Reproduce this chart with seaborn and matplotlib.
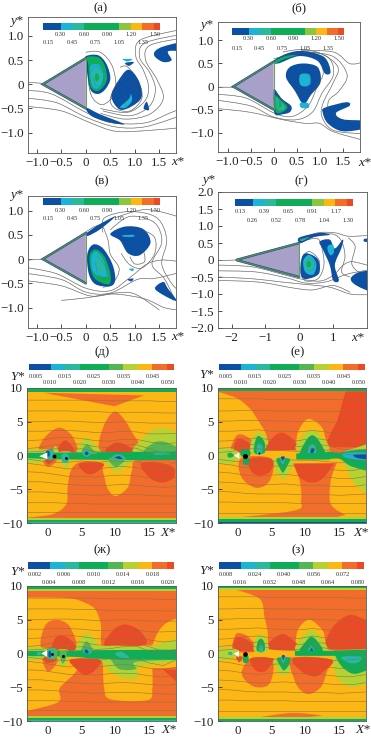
#!/usr/bin/env python3
# Vorticity / velocity contour panels behind a triangular cylinder
import matplotlib
matplotlib.use('Agg')
import matplotlib.pyplot as plt
from matplotlib.colors import ListedColormap
from matplotlib.patches import PathPatch, Polygon
from matplotlib.path import Path
import seaborn as sns

W, H = 371, 739

b = '#0c50a4'
cy = '#1cb4d4'
te = '#2cb89c'
g = '#10ad58'
mg = '#55b552'
yg = '#b4d234'
lg = '#8cc63f'
yo = '#fdb714'
ora = '#f26d2b'
red = '#ea4a26'
tri = '#a9a0ca'
gr = '#8c8c8c'

TOP_CELLS = [b, b, b, cy, cy, te, te, g, g, g, g, g, g, lg, lg, yo, yo, ora, ora, red]
LOW_CELLS = [b, b, b, cy, cy, te, te, g, g, g, g, mg, mg, yg, yg, yo, yo, ora, ora, red]

LABELS_A = ['0.15', '0.30', '0.45', '0.60', '0.75', '0.90', '1.05', '1.20', '1.35', '1.50']
LABELS_G = ['0.13', '0.26', '0.39', '0.52', '0.65', '0.78', '0.91', '1.04', '1.17', '1.30']
LABELS_D = ['0.005', '0.010', '0.015', '0.020', '0.025', '0.030', '0.035', '0.040', '0.045', '0.050']
LABELS_ZH = ['0.002', '0.004', '0.006', '0.008', '0.010', '0.012', '0.014', '0.016', '0.018', '0.020']
LABELS_Z = ['0.008', '0.016', '0.024', '0.032', '0.040', '0.048', '0.056', '0.064', '0.072', '0.080']

TRIANGLE = [(-0.88, 0.0), (0.0, 0.54), (0.0, -0.5)]
TRIANGLE_G = [(-1.87, 0.0), (0.0, 0.5), (0.0, -0.5)]

# outlines of the contour regions, data units, painted in order
BLOBS_A = [
    (b, [(0, .58), (.25, .6), (.42, .42), (.5, .12), (.4, -.1), (.25, -.2), (.1, -.12), (.03, .2), (.02, .45)]),
    (g, [(.02, .56), (.25, .56), (.38, .4), (.43, .12), (.35, -.06), (.22, -.14), (.1, -.05), (.06, .2), (.05, .42)]),
    (cy, [(.1, .38), (.27, .4), (.36, .2), (.3, -.04), (.17, -.08), (.1, .1)]),
    (te, [(.15, .28), (.27, .3), (.31, .15), (.25, .01), (.17, .02), (.14, .14)]),
    (g, [(.19, .2), (.25, .22), (.27, .12), (.22, .06), (.19, .1)]),
    (b, [(.86, .3), (1.07, .09), (1.14, -.26), (.93, -.46), (.69, -.52), (.52, -.26), (.63, .02)]),
    (cy, [(.7, -.47), (.88, -.3), (.92, -.2), (.94, -.34), (.82, -.48)]),
    (b, [(1.41, .68), (1.58, .78), (2.0, .87), (2.0, .7), (1.68, .68), (1.75, .5), (1.58, .46), (1.41, .57)]),
    (b, [(1.18, -.5), (1.24, -.36), (1.29, -.53)]),
    (b, [(0, -.48), (.29, -.62), (.78, -.82), (.49, -.79), (.12, -.66)]),
    (b, [(.8, .44), (.98, .46), (.88, .38)]),
    (cy, [(.75, .52), (.95, .52), (.85, .47)]),
]
BLOBS_B = [
    (b, [(0, .56), (.3, .72), (.65, .77), (1.1, .64), (1.24, .32), (1.12, .28), (.95, .56), (.55, .66), (.1, .5)]),
    (g, [(0, .54), (.25, .66), (.5, .68), (.2, .58), (.05, .5)]),
    (b, [(0, -.06), (.17, -.26), (.38, -.42), (.36, -.55), (.2, -.6), (.02, -.58)]),
    (g, [(.03, -.2), (.16, -.3), (.3, -.44), (.2, -.55), (.05, -.55)]),
    (te, [(.06, -.25), (.15, -.3), (.24, -.46), (.15, -.52), (.07, -.46)]),
    (g, [(.12, -.28), (.17, -.33), (.17, -.44), (.12, -.44)]),
    (b, [(.64, .5), (.96, .42), (1.02, .09), (.82, -.17), (.65, -.38), (.46, -.09), (.27, .2), (.35, .42)]),
    (cy, [(.58, .26), (.78, .26), (.8, .06), (.68, .0), (.57, .06)]),
    (cy, [(.58, -.36), (.75, -.36), (.76, -.46), (.6, -.46)]),
    (b, [(1.11, -.46), (1.58, -.34), (1.65, -.42), (1.36, -.57), (1.5, -.71), (2, -.75), (2, -.9), (1.5, -.97), (1.18, -.8), (1.07, -.57)]),
]
BLOBS_V = [
    (b, [(.03, .1), (.15, .3), (.35, .22), (.54, -.1), (.6, -.42), (.5, -.56), (.2, -.52), (.06, -.3)]),
    (g, [(.08, .08), (.2, .2), (.38, .05), (.5, -.3), (.47, -.52), (.2, -.42), (.1, -.2)]),
    (cy, [(.12, .06), (.22, .15), (.36, -.02), (.44, -.3), (.42, -.37), (.2, -.32), (.12, -.15)]),
    (te, [(.22, 0), (.3, .02), (.36, -.16), (.34, -.28), (.26, -.26), (.22, -.12)]),
    (b, [(0, .52), (.25, .7), (.6, .88), (.3, .62), (.05, .48)]),
    (b, [(.5, .52), (.8, .67), (1.17, .62), (1.32, .34), (1.1, .08), (.86, .12), (.7, .38)]),
    (cy, [(.75, .49), (.97, .5), (.97, .46), (.78, .46)]),
    (b, [(1.41, -.6), (1.58, -.47), (1.67, -.6), (1.85, -.86), (1.58, -.74)]),
    (cy, [(.88, -.2), (.98, -.2), (.95, -.25)]),
    (b, [(.85, -.42), (.97, -.4), (.93, -.46)]),
]
BLOBS_G = [
    (b, [(.06, .02), (.2, .2), (.55, .02), (.58, -.4), (.2, -.56), (.04, -.42)]),
    (cy, [(.12, -.02), (.3, .15), (.5, -.1), (.42, -.42), (.18, -.36)]),
    (te, [(.16, -.06), (.3, .04), (.42, -.12), (.36, -.3), (.2, -.28)]),
    (g, [(.22, -.1), (.3, -.02), (.36, -.12), (.32, -.2), (.24, -.2)]),
    (b, [(0, .66), (.6, .8), (.9, .74), (.45, .68), (.05, .5)]),
    (te, [(.02, .6), (.3, .68), (.1, .56)]),
    (b, [(.6, .54), (.9, .6), (1.05, .34), (1.29, .6), (1.24, .34), (1.05, -.15), (1.17, -.6), (1, -.6), (.9, -.15), (.7, .3)]),
    (cy, [(.85, .42), (1, .44), (1.02, .22), (.92, .14), (.84, .28)]),
    (b, [(1.52, -.54), (1.79, -.35), (2.2, -.38), (2.2, -.92), (1.69, -.75)]),
    (b, [(1.92, .62), (2.1, .62), (2.1, .54), (1.92, .54)]),
]

BLOBS_D = [
    (ora, [(-.7, 9.3), (-.7, 9.3), (14.2, 8.9), (14.2, 8.9), (9.8, 7.3), (9.8, 7.3)]),
    (ora, [(-3.5, -9.5), (.7, -8.7), (2.7, -7.2), (2.9, -4.7), (3.4, -2.2), (4.7, -1), (7.6, -1), (8.2, -2.7), (8.8, -4.9), (10, -6), (11.8, -4.7), (12.4, -2.2), (13.5, -.6), (22, -.6), (22, -.6), (22, -9.3), (22, -9.3)]),
    (ora, [(-1, .3), (-.7, 2.4), (1.5, 4.1), (3.4, 3.1), (4.4, 1), (4.3, .2)]),
    (red, [(1.5, .6), (2.1, 2), (2.9, 2.1), (3.9, .6)]),
    (ora, [(-.9, -.3), (0, -1.7), (1.3, -.6)]),
    (red, [(-.5, -.5), (.1, -1.3), (.9, -.5)]),
    (ora, [(7.8, .6), (8.2, 4.3), (9.8, 6.5), (11.3, 5.3), (12.5, 3.3), (13.9, 1), (13, .4)]),
    (red, [(8.5, .6), (10, 1.9), (11.8, 1.4), (12.5, .6)]),
    (yg, [(12.7, .4), (14.5, 3), (16.4, 4), (18.8, 3.4), (20, .3)]),
    (mg, [(14.3, .4), (15.9, 2), (17.9, 1.8), (20, .3)]),
    (red, [(13.7, -1.3), (15.9, -1), (18.4, -1.7), (18.6, -3.2), (16.9, -4), (15, -3.3)]),
    (red, [(4.6, -1.2), (8.2, -1.2), (7.1, -2.5), (5.7, -2.7)]),
    (yg, [(-4, .8), (-1, .9), (.6, .8), (-1, -1), (-4, -.8)]),
    (yg, [(.6, .5), (1.1, 1.4), (1.6, .5), (1.4, -.4), (.6, -.4)]),
    (yg, [(4.4, .4), (4.9, 1.9), (5.7, 2.7), (6.9, 1.6), (7.7, .4)]),
    (yg, [(8.2, -.4), (9.3, -1.8), (10, -2.5), (11.3, -1.8), (12.5, -.4)]),
    (yg, [(1.7, .5), (1.7, -.6), (2.6, -1.9), (3.4, -.6), (3.4, .5)]),
    (g, [(-4, .3), (3.9, .45), (22, .5), (22, -.6), (3.9, -.6), (-4, -.3)]),
    (mg, [(5, .3), (5.7, 1.7), (6.6, .9), (7.2, .3)]),
    (mg, [(9, -.4), (10, -1.7), (11.5, -.4)]),
    (te, [(5.1, .3), (5.7, .9), (6.4, .3), (5.7, -.2)]),
    (b, [(5.4, .3), (5.7, .6), (6, .3), (5.7, .05)]),
    (te, [(9.4, -.2), (10.5, .2), (11.5, -.5), (10.3, -.6)]),
    (b, [(9.9, -.3), (10.5, -.1), (11, -.5), (10.4, -.5)]),
    (te, [(2.1, .2), (3, .2), (3, -.9), (2.1, -.9)]),
    (te, [(-.1, .8), (.8, .8), (.8, -.5), (-.1, -.5)]),
    (b, [(-.3, .6), (.2, .6), (.2, -.1), (-.3, -.1)]),
    (te, [(15.5, .3), (17, .5), (18, .2), (16, .1)]),
]
BLOBS_E = [
    (ora, [(-3.5, 9.6), (-3.5, 9.6), (-.2, 8.5), (1.7, 7), (2.9, 5.3), (4.2, 3), (4.4, .8), (4.4, .8), (8.6, .8), (8.6, .8), (8.8, 3.3), (10.3, 5.4), (12.3, 4.3), (13, 2.3), (13.5, .8), (15.5, .4), (22, .6), (22, .6), (22, 9.6), (22, 9.6)]),
    (red, [(13.3, 1.7), (14.7, 5.3), (15.4, 7.8), (15.9, 9.5), (15.9, 9.5), (22, 9.5), (22, 9.5), (22, 1.4), (22, 1.4), (17, 1.2)]),
    (ora, [(-.9, .5), (-.4, 2.7), (.6, 3.1), (2.2, 2.1), (2.8, .5)]),
    (red, [(-.5, .7), (0, 2.5), (1.7, 1.8), (2.2, .7)]),
    (yg, [(1.9, .4), (2.1, 2.5), (3.1, 3.4), (4.3, 2.5), (4.3, .4)]),
    (g, [(2.4, .4), (2.6, 2.3), (3.1, 2.9), (3.9, 2), (3.9, .4)]),
    (te, [(2.8, .3), (2.8, 1.5), (3.2, 1.8), (3.6, 1.4), (3.5, .3)]),
    (red, [(3.9, .7), (3.9, .7), (4.9, 2.4), (6.4, 3.4), (8.1, 2.4), (9.2, .8), (9.2, .8)]),
    (yg, [(5.2, -.5), (5.6, -2.2), (6.7, -3.5), (7.7, -2.2), (8.2, -.5)]),
    (g, [(5.7, -.5), (6.4, -2.3), (6.7, -2.5), (7.3, -1.5), (7.6, -.5)]),
    (te, [(6.2, -.4), (6.6, -1.3), (7, -.4)]),
    (b, [(6.35, -.2), (6.6, -.8), (6.9, -.2)]),
    (yg, [(8.7, .8), (9.3, 2.6), (10.9, 3.8), (12.5, 2.6), (13.3, .8)]),
    (g, [(9.2, -.3), (9.8, 1.8), (10.9, 3), (12, 2.1), (12.8, -.1)]),
    (te, [(10.3, .2), (10.5, 1.3), (11.1, 1.7), (11.6, .8), (11.2, .1)]),
    (b, [(10.7, .4), (10.9, 1.1), (11.3, .9), (11, .3)]),
    (ora, [(-3.5, -9.5), (-3.5, -9.5), (8.1, -8.2), (9.3, -6.7), (9.1, -3.7), (8.1, -1.2), (8.1, -1.2), (14.6, -1.1), (14.6, -1.1), (13.7, -3.7), (13.7, -7.2), (15.9, -8.8), (15.9, -8.8), (13, -9.5), (13, -9.5)]),
    (red, [(8.3, -1.2), (8.3, -1.2), (14.2, -1.2), (14.2, -1.2), (12.5, -3.4), (10.8, -4), (9.1, -3.2)]),
    (ora, [(.5, -.4), (.5, -3.2), (2.7, -4.8), (4.7, -3.7), (5, -.5)]),
    (red, [(1.7, -.5), (2, -2.4), (3.4, -3), (4.9, -2.2), (4.9, -.5)]),
    (yg, [(-3.6, 1), (-1, 1), (.2, .4), (.2, -.5), (-1, -1.2), (-3.6, -1)]),
    (yg, [(15.4, .3), (16.9, 1), (22, 1.5), (22, -7), (17.4, -4.3), (15.9, -1.7), (15.2, -.3)]),
    (g, [(13, .5), (15, .45), (17, .75), (22, .8), (22, -2.6), (17, -1.7), (15, -.5), (13, -.5)]),
    (g, [(-1.5, .3), (-1, .4), (-.6, 0), (-1, -.3), (-1.5, -.2)]),
    (g, [(8.6, .3), (8.6, .3), (13.5, .4), (13.5, .4), (13.5, -.6), (13.5, -.6), (8.6, -.6), (8.6, -.6)]),
    (cy, [(15.5, .3), (17, .45), (22, .35), (22, -.9), (18, -.65), (15.9, -.3)]),
    (b, [(17.3, .15), (22, .15), (22, -.6), (18, -.45)]),
    (g, [(.8, -.4), (1.6, -.4), (1.6, -1.3), (.8, -1.3)]),
    (g, [(.5, .8), (1.7, .8), (1.7, -.1), (.5, -.1)]),
]
BLOBS_ZH = [
    (ora, [(-3.5, 9.3), (-3.5, 9.3), (-3.5, 8.3), (-3.5, 8.3), (3, 8.2), (5.5, 7.5), (7, 6.5), (7.8, 4.3), (7.8, 1.7), (8, 1.2), (8, 1.2), (15.4, 1.2), (15.4, 1.2), (16.4, 3.4), (18, 4.8), (22, 6.2), (22, 6.2), (22, 9.3), (22, 9.3)]),
    (red, [(8.5, 1.1), (9.6, 3.4), (11.3, 4.3), (13.5, 3.4), (14.3, 1.3)]),
    (ora, [(-.8, .6), (-.5, 4), (1.2, 5), (3.2, 4), (4, .6)]),
    (red, [(.7, .4), (1.2, 2.4), (2.9, 2.4), (4.1, .6)]),
    (yg, [(4.2, .4), (4.9, 2.3), (5.7, 3), (6.9, 2.1), (7.6, .4)]),
    (mg, [(4.9, .3), (5.7, 1.8), (6.6, .4)]),
    (ora, [(-3.5, -8.7), (1.5, -7.2), (1.7, -5.2), (3.7, -3.2), (4.9, -2), (8.1, -1.1), (8.1, -1.1), (8.3, -5.2), (9.3, -6.8), (14.7, -6.9), (15.4, -5.2), (15.4, -2.2), (15.4, -2.2), (22, -2), (22, -2), (22, -9.6), (22, -9.6), (-3.5, -9.6), (-3.5, -9.6)]),
    (ora, [(-.8, -.5), (-.3, -2.4), (.3, -2.6), (1.2, -1.6), (1.3, -.5)]),
    (red, [(-.6, -.6), (-.2, -1.4), (.9, -1.2), (1.2, -.6)]),
    (red, [(3.3, -.9), (7.7, -.9), (6.9, -2.5), (5.6, -3.2), (4.4, -2.5)]),
    (red, [(17, -2.4), (17, -2.4), (19.5, -2.4), (19.5, -2.4), (19, -4.2), (19, -4.2)]),
    (yg, [(7.6, -.6), (9.1, -2.6), (11, -3.6), (13.2, -3.6), (13.4, -2), (16.4, -1.5), (22, -.9), (22, 0), (7.6, 0)]),
    (yg, [(8, 1.1), (15, 1.1), (17, 1.6), (22, 2.8), (22, 0), (8, 0)]),
    (mg, [(9.1, -.6), (10.5, -2.3), (13, -2.3), (13.2, -1.2), (22, -.8), (22, 0), (9.1, 0)]),
    (yg, [(-4, .8), (-1.2, .9), (.3, .5), (-1.2, -.9), (-4, -.8)]),
    (yg, [(1.4, .5), (1.4, -.7), (2.2, -2.1), (3, -.7), (3, .5)]),
    (g, [(-4, .3), (4, .45), (8, .5), (22, .45), (22, -.8), (8, -.8), (4, -.5), (-4, -.3)]),
    (mg, [(1.8, .3), (1.8, -.6), (2.2, -1.5), (2.7, -.6), (2.7, .3)]),
    (te, [(5.1, .4), (5.7, .8), (6.5, .3), (5.8, -.1)]),
    (b, [(5.4, .35), (5.7, .6), (6, .2), (5.7, 0)]),
    (te, [(9.9, -.1), (10.8, .3), (12, -.6), (10.8, -.6)]),
    (mg, [(-.1, .7), (1.2, .7), (1.2, -.7), (-.1, -.7)]),
    (te, [(.1, .5), (.9, .5), (.9, -.6), (.1, -.6)]),
    (b, [(.1, .3), (.4, .3), (.4, -.5), (.1, -.5)]),
    (te, [(-1.6, .2), (-1.1, .2), (-1.1, -.2), (-1.6, -.2)]),
]
BLOBS_Z = [
    (ora, [(-.5, 9.5), (-.5, 9.5), (3.2, 8.1), (3.9, 5.5), (4.4, 3), (4.3, .7), (4.3, .7), (8.5, .7), (8.5, .7), (8.8, 3.4), (10.5, 5), (12.5, 3.4), (13, 1.4), (14, .5), (22, .5), (22, .5), (22, 9.5), (22, 9.5)]),
    (red, [(13, 1.1), (14, 3.9), (16.4, 5.7), (18.9, 5), (22, 4), (22, 1.1), (15.9, .6)]),
    (red, [(4.2, .7), (4.9, 1.9), (6.6, 2.9), (8.3, 1.8), (9.3, .5)]),
    (ora, [(-.7, .4), (-.4, 2.7), (.4, 3), (1.7, 2.3), (2.8, .4)]),
    (red, [(-.5, .6), (-.2, 2.4), (1.7, 1.8), (2.5, .4)]),
    (yg, [(2.4, .4), (2.6, 2.3), (3.4, 2.8), (4.3, 2), (4.4, .3)]),
    (g, [(2.8, .4), (2.9, 1.7), (3.4, 2.2), (3.9, 1.6), (3.9, .4)]),
    (te, [(3.1, .3), (3.3, 1.2), (3.7, 1), (3.6, .2)]),
    (yg, [(8.6, .4), (9.3, 2.3), (10.8, 3.4), (12.3, 2.3), (13, .4)]),
    (g, [(9.2, .3), (9.8, 1.5), (10.8, 2.5), (11.8, 1.7), (12.4, .3)]),
    (te, [(10.3, .2), (10.8, 1.2), (11.3, .3), (10.8, -.1)]),
    (b, [(10.6, .3), (10.9, .8), (11.1, .2)]),
    (ora, [(.6, -2.5), (1, -3.9), (2.7, -5), (4.7, -4.4), (5.1, -1), (2, -.7)]),
    (red, [(1.9, -.7), (2.5, -2.4), (3.9, -2.7), (5.1, -1.3), (5.1, -.7)]),
    (yg, [(5.3, -.9), (5.9, -2.6), (6.7, -3.3), (7.7, -2.6), (8.3, -.7)]),
    (g, [(5.8, -.7), (6.4, -2.1), (6.8, -2.5), (7.4, -1.9), (7.8, -.7)]),
    (te, [(6.3, -.5), (6.7, -1.4), (7.1, -.5)]),
    (b, [(6.5, -.3), (6.7, -1), (6.9, -.3)]),
    (ora, [(8, -.7), (8.3, -3.8), (9.3, -5.5), (10.6, -6), (12.3, -4.9), (13.2, -2.5), (13.8, -.9)]),
    (red, [(8.2, -.7), (9.3, -2.6), (11.3, -3.4), (12.7, -2.6), (13.8, -.9)]),
    (yg, [(14, -.4), (14.5, -3.3), (16.4, -4.9), (19, -4.4), (22, -2), (22, .4), (14, .4)]),
    (g, [(14.4, -.4), (15.4, -2), (17, -3), (19, -2.5), (22, -1), (22, .4), (14.4, .4)]),
    (te, [(15.3, -.5), (16.2, -1.3), (17.6, -1.4), (18.2, -.5)]),
    (cy, [(15.9, -.6), (16.8, -1.1), (17.5, -.6)]),
    (g, [(8.4, .4), (8.4, .4), (22, .4), (22, .4), (22, -.35), (22, -.35), (8.4, -.35), (8.4, -.35)]),
    (ora, [(3.4, -9.4), (3.4, -9.4), (8.1, -8.8), (12.5, -9.2), (12.5, -9.2), (8.1, -9.6)]),
    (yg, [(-3.6, .7), (-1.2, .8), (.2, .3), (-1.2, -.9), (-3.6, -.8)]),
    (te, [(-1.4, .2), (-.9, .2), (-.9, -.2), (-1.4, -.2)]),
    (g, [(.8, -.4), (1.5, -.4), (1.5, -1.3), (.8, -1.3)]),
    (red, [(-.3, -.5), (.7, -.5), (.2, -1.3)]),
]

# (from y, to y, colour) stripes at the outer walls
STRIPES_D = [(9.45, 10, g), (9.8, 10, te), (-9.55, -9.25, yg), (-9.9, -9.55, g), (-10, -9.85, te)]
STRIPES_E = [(9.55, 10, g), (9.85, 10, te), (-9.35, -9.1, yg), (-9.85, -9.35, g), (-10, -9.8, b)]
STRIPES_ZH = [(9.2, 9.5, yg), (9.5, 10, g), (9.85, 10, te), (-9.5, -9.2, yg), (-9.9, -9.5, g), (-10, -9.85, te)]
STRIPES_Z = [(9.45, 9.7, yg), (9.7, 10, g), (-9.65, -9.4, yg), (-10, -9.65, g)]

# streamlines of the upper four panels
LINES_A = [
    [(-1.18, .04), (-.88, .02)],
    [(-1.18, -.13), (-.7, -.2), (0, -.58), (.5, -.79), (1.2, -.8), (1.7, -.6), (1.9, -.52)],
    [(-1.18, -.29), (-.6, -.38), (0, -.68), (.6, -.88), (1.2, -.88), (1.9, -.66)],
    [(-1.18, -.46), (-.5, -.55), (.1, -.8), (.6, -.97), (1.2, -.96), (1.9, -.9)],
    [(.3, -.6), (.8, -.72), (1.3, -.62), (1.58, -.3), (1.45, .1), (1.22, .5), (1.3, .8), (1.9, .94)],
    [(.35, -.55), (.9, -.65), (1.3, -.45), (1.42, -.1), (1.3, .25), (1.1, .55), (1.2, .85), (1.9, 1.02)],
    [(.3, -.5), (.85, -.58), (1.2, -.35), (1.28, -.05), (1.17, .3), (1.02, .58), (1.12, .92), (1.9, 1.12)],
    [(0, .66), (.3, .66), (.55, .35), (.6, -.15), (.35, -.42), (.12, -.25), (.06, .15), (.2, .38), (.36, .22), (.32, -.02), (.2, -.02), (.15, .15)],
    [(1.05, -.15), (.85, .2), (.65, -.1), (.85, -.45), (1.02, -.28), (.95, -.05), (.82, .02), (.75, -.15), (.85, -.3)],
    [(.7, .35), (.85, .36), (1.08, .05), (1.14, -.3), (.9, -.55), (.6, -.5), (.5, -.3), (.65, .05)],
]
LINES_B = [
    [(-1.21, 0), (-.88, 0)],
    [(-1.21, -.17), (-.6, -.25), (0, -.57), (.4, -.65), (.75, -.42), (.95, .0), (1.08, .3), (.95, .62), (.55, .72), (.0, .6)],
    [(-1.21, -.3), (-.5, -.42), (0, -.66), (.5, -.72), (.85, -.55), (1.05, -.15), (1.3, .25), (1.2, .62), (.7, .8), (.2, .75)],
    [(-1.21, -.48), (-.5, -.56), (.2, -.72), (.7, -.8), (1.0, -.8), (1.3, -.98), (1.9, -1.15)],
    [(.4, .74), (1.0, .72), (1.4, .42), (1.28, .05), (1.08, -.35), (1.05, -.65), (1.3, -.95), (1.9, -1.02)],
    [(.7, .75), (1.3, .65), (1.6, .25), (1.42, -.1), (1.2, -.3), (1.22, -.55), (1.5, -.72), (1.9, -.78)],
    [(.6, .78), (1.3, .75), (1.65, .5), (1.9, .52)],
    [(.68, .42), (.9, .32), (.95, .06), (.75, -.2), (.52, -.08), (.4, .2), (.6, .4)],
    [(.68, .3), (.8, .15), (.65, -.1), (.5, .08), (.6, .28)],
    [(.05, -.12), (.2, -.3), (.36, -.45), (.25, -.56), (.08, -.4), (.14, -.2)],
]
LINES_V = [
    [(-1.18, -.02), (-.88, 0)],
    [(-1.18, -.18), (-.6, -.3), (0, -.6), (.5, -.65), (.9, -.38), (1.25, -.1), (1.55, -.02), (1.9, -.05)],
    [(-1.18, -.3), (-.5, -.42), (0, -.68), (.5, -.7), (1.05, -.42), (1.4, -.4), (1.9, -.28)],
    [(-1.18, -.45), (-.5, -.55), (.1, -.76), (.6, -.72), (1.2, -.82), (1.6, -1.0), (1.9, -1.05)],
    [(-.5, -.85), (0, -.8), (.6, -.7), (1.0, -.72), (1.5, -1.05)],
    [(0, .56), (.3, .7), (.45, .4), (.5, .1), (.68, -.2), (.55, -.5), (.35, -.58)],
    [(.35, .55), (.38, .85), (.9, .98), (1.45, .85), (1.65, .4), (1.55, -.1), (1.75, -.5), (1.9, -.65)],
    [(.5, .6), (.9, .88), (1.4, .75), (1.55, .35), (1.35, -.1), (1.6, -.4), (1.8, -.8)],
    [(.6, .85), (1.2, 1.02), (1.8, .9), (1.9, .82)],
    [(.72, .12), (.9, -.12), (1.15, -.18), (1.4, .1), (1.4, .45), (1.1, .6), (.8, .55)],
    [(.95, .2), (1.15, .2), (1.2, -.05), (1.0, -.1), (.9, .05)],
    [(.25, .05), (.4, -.15), (.4, -.4), (.25, -.3), (.2, -.08)],
]
LINES_G = [
    [(-2.4, -.02), (-1.87, 0)],
    [(-2.4, -.15), (-1.4, -.2), (-.5, -.42), (0, -.55), (.6, -.62), (1, -.45), (1.3, -.15), (1.55, -.05), (2, -.15)],
    [(-2.4, -.32), (-1.3, -.35), (-.4, -.52), (.2, -.68), (.8, -.64), (1.4, -.42), (2, -.3)],
    [(-2.4, -.5), (-1.4, -.55), (-.5, -.65), (.2, -.72), (.9, -.8), (1.5, -1.0), (2, -1.02)],
    [(-2.4, -.6), (-1.2, -.65), (-.2, -.82), (.4, -.88), (1, -.75), (1.5, -.95)],
    [(0, .62), (.55, .8), (1.05, .8), (1.45, .7), (2, .72)],
    [(.05, .6), (.6, .72), (1, .76), (1.25, .55), (1.35, .1), (1.25, -.35), (1.5, -.5)],
    [(.1, .55), (.55, .62), (.7, .2), (.72, -.2), (.55, -.55), (.2, -.62), (.05, -.45)],
    [(.1, .1), (.3, .25), (.58, 0), (.55, -.35), (.22, -.5), (.1, -.25)],
    [(.2, -.1), (.3, .05), (.45, -.1), (.38, -.3), (.25, -.3)],
    [(1.45, .65), (1.65, .4), (1.55, -.1), (1.75, -.35), (2, -.35)],
]

# streamlines of the lower four panels: y at each of the STREAM_X stations
STREAM_X = [-3.5, -1, 1, 3, 5, 7, 9, 11, 13, 15, 17, 19, 22]
STREAM_LOW_1 = [
    [8.2, 8.2, 8.2, 8.2, 8.2, 8.2, 8.1, 8.1, 8.1, 8.1, 8.0, 8.0, 8.0],
    [6.6, 6.6, 6.6, 6.6, 6.5, 6.5, 6.4, 6.4, 6.4, 6.4, 6.3, 6.3, 6.3],
    [5.0, 5.0, 5.1, 5.1, 5.0, 4.9, 4.9, 5.0, 4.9, 4.8, 4.8, 4.8, 4.8],
    [3.6, 3.6, 3.7, 3.7, 3.6, 3.4, 3.4, 3.6, 3.5, 3.2, 3.2, 3.3, 3.3],
    [2.2, 2.3, 2.6, 2.7, 2.5, 2.2, 2.1, 2.4, 2.4, 2.0, 1.7, 1.9, 2.0],
    [1.0, 1.2, 1.6, 1.7, 1.7, 1.3, 1.2, 1.6, 1.6, 1.0, .3, .6, 1.0],
    [.5, .6, 1.0, .9, 1.0, .6, .7, 1.0, 1.1, .3, -.5, 0, .5],
    [-.5, -.8, -1.0, -1.0, -.8, -1.1, -.8, -.9, -.8, -1.4, -1.8, -.9, -.3],
    [-1.1, -1.4, -1.7, -2.0, -1.8, -2.0, -1.8, -1.6, -1.8, -2.2, -2.4, -2.0, -1.5],
    [-2.4, -2.5, -2.8, -3.1, -3.1, -3.2, -3.0, -2.9, -3.0, -3.3, -3.5, -3.2, -3.0],
    [-3.9, -3.9, -4.1, -4.3, -4.4, -4.5, -4.4, -4.3, -4.4, -4.6, -4.7, -4.6, -4.5],
    [-5.4, -5.4, -5.5, -5.7, -5.8, -5.9, -5.8, -5.8, -5.8, -5.9, -6.0, -6.0, -5.9],
    [-7.0, -7.0, -7.0, -7.1, -7.1, -7.2, -7.2, -7.2, -7.2, -7.2, -7.2, -7.2, -7.2],
    [-8.4, -8.4, -8.4, -8.4, -8.4, -8.4, -8.4, -8.4, -8.4, -8.4, -8.4, -8.4, -8.4],
]
STREAM_LOW_2 = [
    [8.4, 8.4, 8.4, 8.4, 8.3, 8.3, 8.3, 8.3, 8.3, 8.3, 8.2, 8.2, 8.2],
    [6.6, 6.6, 6.7, 6.7, 6.6, 6.6, 6.6, 6.6, 6.5, 6.5, 6.4, 6.5, 6.5],
    [5.1, 5.1, 5.2, 5.2, 5.1, 5.1, 5.0, 5.1, 5.0, 4.9, 4.8, 4.9, 5.0],
    [3.6, 3.6, 3.7, 3.8, 3.6, 3.6, 3.5, 3.7, 3.5, 3.2, 3.1, 3.2, 3.4],
    [2.1, 2.2, 2.5, 2.6, 2.3, 2.4, 2.2, 2.6, 2.3, 1.9, 1.7, 1.8, 2.0],
    [1.0, 1.2, 1.6, 1.7, 1.3, 1.5, 1.3, 1.7, 1.5, 1.0, .8, .9, 1.2],
    [.4, .6, 1.0, 1.0, .8, .7, .6, 1.0, .8, .3, .1, .2, .4],
    [-.5, -.8, -1.0, -.8, -.9, -.6, -.7, -.7, -.9, -1.1, -.9, -.7, -.5],
    [-1.1, -1.4, -1.8, -1.8, -1.6, -1.5, -1.6, -1.7, -2.0, -2.2, -2.2, -1.8, -1.5],
    [-2.4, -2.6, -2.9, -3.1, -2.9, -2.8, -3.0, -3.0, -3.2, -3.4, -3.4, -3.1, -2.9],
    [-3.9, -4.0, -4.2, -4.4, -4.3, -4.2, -4.4, -4.4, -4.5, -4.6, -4.6, -4.3, -3.9],
    [-5.3, -5.4, -5.6, -5.7, -5.7, -5.7, -5.8, -5.8, -5.8, -5.9, -5.8, -5.7, -5.6],
    [-6.9, -6.9, -7.0, -7.0, -7.0, -7.0, -7.1, -7.1, -7.1, -7.1, -7.1, -7.1, -7.1],
    [-8.5, -8.5, -8.5, -8.5, -8.5, -8.5, -8.5, -8.5, -8.5, -8.5, -8.5, -8.5, -8.5],
]

# black vortex cores and the white body in the lower panels
CORES_D = [(.83, -.05, 2.8), (2.6, -.3, 2)]
CORES_E = [(1, 0, 3.6), (3.1, .4, 1.3)]
CORES_ZH = [(.6, -.1, 2), (2.2, -.35, 2.2)]
CORES_Z = [(1.1, -.1, 3.4)]
BODY_D = [(-1.3, -.1), (-.1, .45), (-.1, -.55)]
BODY_E = [(-.6, 0), (.2, .42), (.2, -.5)]
BODY_ZH = [(-1, 0), (-.15, .5), (-.15, -.5)]
BODY_Z = [(-.65, 0), (.15, .35), (.15, -.55)]

X_TICKS_TOP = [-1.0, -0.5, 0, 0.5, 1.0, 1.5]
Y_TICKS_TOP = [-1.0, -0.5, 0, 0.5, 1.0]
X_TICKS_G = [-2, -1, 0, 1]
Y_TICKS_G = [-2.0, -1.5, -1.0, -0.5, 0, 0.5, 1.0, 1.5, 2.0]
X_TICKS_LOW = [0, 5, 10, 15]
Y_TICKS_LOW = [-10, -5, 0, 5, 10]


def fmt(v, dec):
    if v == 0:
        return '0'
    s = f'{abs(v):.{dec}f}'
    return ('\u2212' + s) if v < 0 else s


def smooth_path(pts, closed=True):
    # cubic pieces running through the read-off points, doubled points stay corners
    pts = list(pts)
    n = len(pts)
    if n < 3:
        return Path(pts)
    verts, codes = [pts[0]], [Path.MOVETO]
    for i in range(n if closed else n - 1):
        if closed:
            p0, p1, p2, p3 = pts[i - 1], pts[i], pts[(i + 1) % n], pts[(i + 2) % n]
        else:
            p0, p1, p2, p3 = pts[max(i - 1, 0)], pts[i], pts[i + 1], pts[min(i + 2, n - 1)]
        if p1 == p2:
            c1, c2 = p1, p2
        else:
            # a doubled neighbour means no pull through the corner
            c1 = p1 if p0 == p1 else (p1[0] + (p2[0] - p0[0]) / 6, p1[1] + (p2[1] - p0[1]) / 6)
            c2 = p2 if p2 == p3 else (p2[0] - (p3[0] - p1[0]) / 6, p2[1] - (p3[1] - p1[1]) / 6)
        verts += [c1, c2, p2]
        codes += [Path.CURVE4, Path.CURVE4, Path.CURVE4]
    return Path(verts, codes)


def px_axes(fig, left, top, right, bottom):
    return fig.add_axes([left / W, 1 - bottom / H, (right - left) / W, (bottom - top) / H])


def px_text(fig, x, y, s, **kw):
    fig.text(x / W, 1 - y / H, s, ha='center', va='center', **kw)


def draw_blobs(ax, blobs):
    for col, pts in blobs:
        ax.add_patch(PathPatch(smooth_path(pts), fc=col, ec='none', lw=0))


def setup_axes(ax, xlim, ylim, xt, yt, xdec, ydec):
    ax.set_xlim(xlim)
    ax.set_ylim(ylim)
    ax.set_xticks(xt, [fmt(v, xdec) for v in xt])
    ax.set_yticks(yt, [fmt(v, ydec) for v in yt])
    ax.tick_params(direction='in', length=3, width=.6, labelsize=9.4, pad=3, color='#333333', labelcolor='#222222')
    ax.set_xlabel('')
    ax.set_ylabel('')
    for sp in ax.spines.values():
        sp.set_linewidth(.6)
        sp.set_color('#555555')
        sp.set_visible(True)


def colorbar(fig, box, cells, labels, first_low, row1, row2):
    cax = px_axes(fig, *box)
    cmap = ListedColormap(cells)
    sns.heatmap([list(range(len(cells)))], cmap=cmap, cbar=False, xticklabels=False,
                yticklabels=False, ax=cax)
    left, top, right, bottom = box
    for i, lab in enumerate(labels):
        x = left + (right - left) * (.045 + .91 * i / (len(labels) - 1))
        on_lower = (i % 2 == 0) == first_low
        px_text(fig, x, row2 if on_lower else row1, lab, fontsize=4.6, color='#333333')


def top_panel(fig, box, xlim, ylim, triangle, blobs, lines, xt, yt):
    ax = px_axes(fig, *box)
    ax.set_facecolor('white')
    for pts in lines:
        ax.add_patch(PathPatch(smooth_path(pts, closed=False), fc='none', ec=gr, lw=.5))
    draw_blobs(ax, blobs)
    for pts in lines:
        ax.add_patch(PathPatch(smooth_path(pts, closed=False), fc='none', ec='#555555', lw=.3, alpha=.5))
    ax.add_patch(Polygon(triangle, closed=True, fc=tri, ec='none'))
    ap, up, lo = triangle
    for col, lw in [(b, 1.7), (g, .95), (red, .35)]:
        ax.plot([up[0], ap[0], lo[0]], [up[1], ap[1], lo[1]], color=col, lw=lw, solid_joinstyle='miter')
    ax.plot([up[0], lo[0]], [up[1], lo[1]], color=g, lw=.6)
    ax.plot([up[0], lo[0]], [up[1], lo[1]], color=ora, lw=.25)
    setup_axes(ax, xlim, ylim, xt, yt, 1 if xt is X_TICKS_TOP else 0, 1)
    return ax


def low_panel(fig, box, xlim, stripes, blobs, stream, cores, body):
    ax = px_axes(fig, *box)
    ax.set_facecolor(yo)
    draw_blobs(ax, blobs)
    for y0, y1, col in stripes:
        ax.axhspan(y0, y1, color=col, lw=0)
    for row in stream:
        sns.lineplot(x=STREAM_X, y=row, ax=ax, color='#8a7440', lw=.45, sort=False,
                     estimator=None, legend=False, alpha=.85)
    ax.add_patch(Polygon(body, closed=True, fc='white', ec='none', zorder=5))
    for cx, cy_, size in cores:
        ax.plot([cx], [cy_], 'o', color='black', ms=size, mew=0, zorder=5)
    setup_axes(ax, xlim, (-10, 10), X_TICKS_LOW, Y_TICKS_LOW, 0, 0)
    return ax


sns.set_theme(style='ticks')
plt.rcParams['font.family'] = ['Liberation Serif', 'DejaVu Serif']
fig = plt.figure(figsize=(W / 100, H / 100), dpi=100, facecolor='white')

top_panel(fig, (28, 17, 176, 153), (-1.18, 1.84), (-1.42, 1.39), TRIANGLE, BLOBS_A, LINES_A, X_TICKS_TOP, Y_TICKS_TOP)
top_panel(fig, (218, 22, 360, 152), (-1.21, 1.88), (-1.42, 1.4), TRIANGLE, BLOBS_B, LINES_B, X_TICKS_TOP, Y_TICKS_TOP)
top_panel(fig, (28, 196, 176, 328), (-1.18, 1.84), (-1.42, 1.3), TRIANGLE, BLOBS_V, LINES_V, X_TICKS_TOP, Y_TICKS_TOP)
top_panel(fig, (218, 192, 367, 328), (-2.4, 2.0), (-2, 2), TRIANGLE_G, BLOBS_G, LINES_G, X_TICKS_G, Y_TICKS_G)

low_panel(fig, (27, 388, 176, 523), (-3.1, 18.9), STRIPES_D, BLOBS_D, STREAM_LOW_1, CORES_D, BODY_D)
low_panel(fig, (218, 388, 366, 523), (-2.95, 18.9), STRIPES_E, BLOBS_E, STREAM_LOW_2, CORES_E, BODY_E)
low_panel(fig, (27, 586, 176, 721), (-3.1, 18.9), STRIPES_ZH, BLOBS_ZH, STREAM_LOW_1, CORES_ZH, BODY_ZH)
low_panel(fig, (218, 586, 366, 721), (-2.95, 18.9), STRIPES_Z, BLOBS_Z, STREAM_LOW_2, CORES_Z, BODY_Z)

colorbar(fig, (43, 23, 160, 30), TOP_CELLS, LABELS_A, True, 35, 43)
colorbar(fig, (232, 28, 344, 35), TOP_CELLS, LABELS_A, True, 39, 48)
colorbar(fig, (43, 198, 160, 205), TOP_CELLS, LABELS_A, True, 210, 218)
colorbar(fig, (235, 199, 353, 206), TOP_CELLS, LABELS_G, False, 212, 220)
colorbar(fig, (29, 364, 174, 370), LOW_CELLS, LABELS_D, False, 376, 383)
colorbar(fig, (219, 364, 365, 370), LOW_CELLS, LABELS_D, False, 376, 383)
colorbar(fig, (28, 562, 174, 569), LOW_CELLS, LABELS_ZH, False, 574, 582)
colorbar(fig, (219, 562, 364, 569), LOW_CELLS, LABELS_Z, False, 574, 582)

for x, y, s in [(101, 8, '(а)'), (299, 8, '(б)'), (102, 181, '(в)'), (301, 181, '(г)'),
                (102, 352, '(д)'), (298, 352, '(е)'), (102, 550, '(ж)'), (298, 550, '(з)')]:
    px_text(fig, x, y, s, fontsize=9.2, color='#222222')

for x, y, s in [(16, 21, 'y*'), (206, 25, 'y*'), (16, 195, 'y*'), (208, 180, 'y*'),
                (17, 377, 'Y*'), (206, 375, 'Y*'), (17, 572, 'Y*'), (206, 571, 'Y*'),
                (177, 162, 'x*'), (364, 163, 'x*'), (177, 337, 'x*'), (357, 338, 'x*'),
                (168, 533, 'X*'), (361, 533, 'X*'), (169, 730, 'X*'), (363, 730, 'X*')]:
    px_text(fig, x, y, s, fontsize=9.6, style='italic', color='#222222')

fig.savefig('out.png', dpi=100)
